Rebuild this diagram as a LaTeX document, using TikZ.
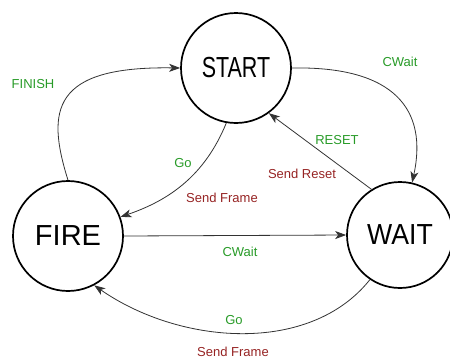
\documentclass[tikz,border=0pt]{standalone}
\usepackage{fontspec}
\setmainfont{Liberation Sans}
\usetikzlibrary{arrows.meta}
\definecolor{evgreen}{RGB}{40,155,40}
\definecolor{actred}{RGB}{150,35,35}
\begin{document}
\begin{tikzpicture}[x=1pt,y=-1pt,
  state/.style={circle,draw=black,line width=1.7pt,minimum size=110pt,inner sep=0pt,font=\fontsize{29}{30}\selectfont},
  trans/.style={draw=black!80,line width=0.8pt,-{Stealth[length=11pt,width=8pt,inset=3pt]}},
  ev/.style={text=evgreen,font=\fontsize{13}{14}\selectfont},
  act/.style={text=actred,font=\fontsize{13}{14}\selectfont}]
\useasboundingbox (0,0) rectangle (450,360);
\begin{scope}
\clip (0,0) rectangle (450,360);
% states
\node[state] (start) at (236,68) {\scalebox{0.74}[1]{START}};
\node[state] (fire) at (68,236) {FIRE};
\node[state,minimum size=106pt] (wait) at (400,235) {\scalebox{0.92}[1]{WAIT}};
\end{scope}
% transitions
\draw[trans] (fire.north) .. controls (46,110) and (52,66) .. (start.west);
\draw[trans] (start.east) .. controls (395,66) and (428,110) .. (wait.77);
\draw[trans] (wait.122) -- (start.-54);
\draw[trans] (start.-100) .. controls (205,175) and (170,200) .. (fire.20);
\draw[trans] (fire.east) -- (wait.west);
\draw[trans] (wait.-124) .. controls (310,355) and (180,345) .. (fire.-62);
% labels
\node[ev] (lfinish) at (33,84) {FINISH};
\node[ev] (lcwait1) at (400,62) {CWait};
\node[ev] (lreset) at (337,140) {RESET};
\node[act] (lsreset) at (302,174) {Send Reset};
\node[ev] (lgo1) at (183,163) {Go};
\node[act] (lsframe1) at (222,198) {Send Frame};
\node[ev] (lcwait2) at (240,252) {CWait};
\node[ev] (lgo2) at (234,320) {Go};
\node[act] (lsframe2) at (233,352) {Send Frame};
\end{tikzpicture}
\end{document}
